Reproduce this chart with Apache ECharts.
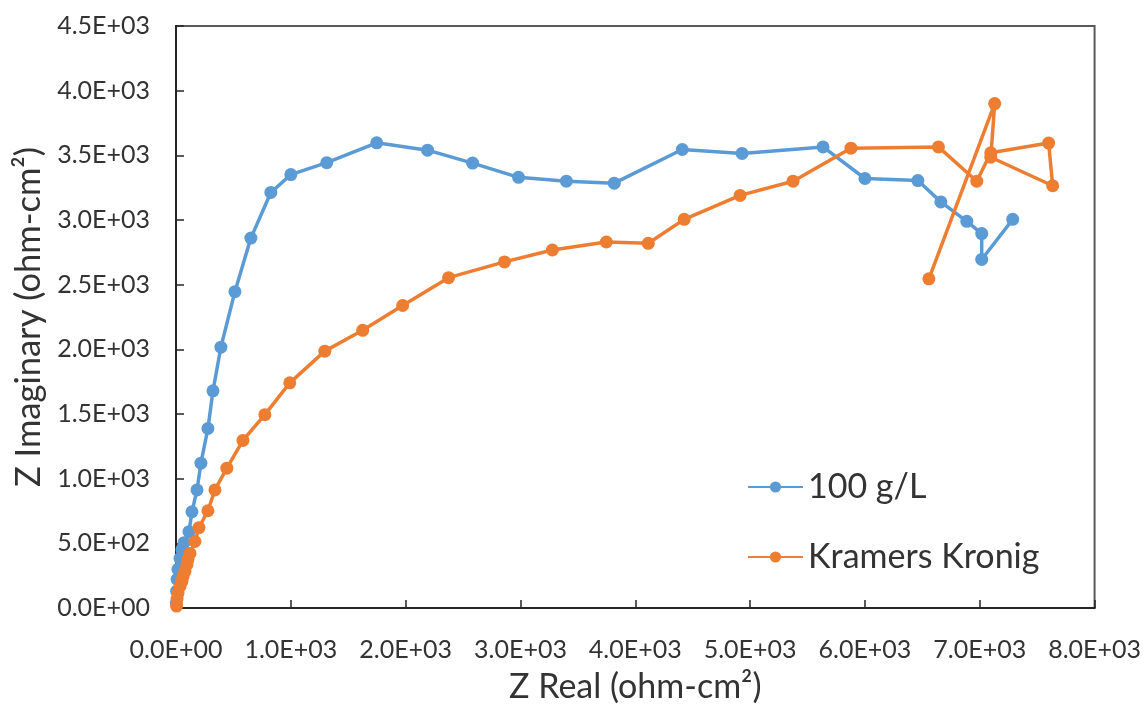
<!DOCTYPE html>
<html>
<head>
<meta charset="utf-8">
<title>Impedance: 100 g/L vs Kramers Kronig</title>
<script src="https://cdn.jsdelivr.net/npm/echarts@6/dist/echarts.min.js"></script>
<style>
  html, body { margin: 0; padding: 0; background: #ffffff; }
  #chart { width: 1144px; height: 709px; }
</style>
</head>
<body>
<div id="chart"></div>
<script>
// Measured impedance, 100 g/L (ohm-cm²)
const measuredReal = [3, 6, 10, 17, 35, 52, 70, 113, 139, 183, 217, 278, 322, 391, 513, 652, 826, 1000, 1313, 1748, 2191, 2583, 2983, 3400, 3817, 4409, 4930, 5635, 6000, 6461, 6661, 6887, 7017, 7017, 7287];
const measuredImag = [40, 130, 222, 299, 383, 452, 505, 590, 744, 913, 1120, 1388, 1679, 2017, 2446, 2860, 3213, 3351, 3443, 3597, 3540, 3440, 3330, 3300, 3285, 3545, 3515, 3565, 3321, 3305, 3140, 2990, 2895, 2695, 3005];

// Kramers-Kronig transform of the same spectrum (ohm-cm²)
const kkReal = [5, 9, 17, 35, 52, 61, 78, 96, 104, 122, 165, 200, 278, 339, 443, 583, 774, 991, 1296, 1626, 1974, 2374, 2861, 3278, 3748, 4113, 4426, 4913, 5374, 5878, 6640, 6974, 7096, 7600, 7635, 7096, 7130, 6557];
const kkImag = [15, 69, 115, 169, 207, 245, 284, 337, 376, 422, 514, 621, 752, 913, 1081, 1296, 1495, 1741, 1986, 2147, 2339, 2554, 2676, 2768, 2830, 2820, 3005, 3190, 3300, 3555, 3565, 3300, 3520, 3595, 3265, 3485, 3900, 2545];

const seriesNames = ['100 g/L', 'Kramers Kronig'];
const seriesColors = ['#5B9BD5', '#ED7D31'];

const xTitle = 'Z Real (ohm-cm²)';
const yTitle = 'Z Imaginary (ohm-cm²)';

function toPairs(xs, ys) {
  return xs.map((x, i) => [x, ys[i]]);
}

// Excel-style scientific tick labels, e.g. 4.5E+03
function sci(v) {
  if (v === 0) return '0.0E+00';
  let e = Math.floor(Math.log10(Math.abs(v)) + 1e-9);
  let m = v / Math.pow(10, e);
  if (Math.abs(m) >= 9.95) { e += 1; m /= 10; }
  return m.toFixed(1) + 'E' + (e < 0 ? '-' : '+') + String(Math.abs(e)).padStart(2, '0');
}

const FONT = 'Lato, "Noto Sans", sans-serif';
const TEXT = '#333333';

const chart = echarts.init(document.getElementById('chart'), null, { renderer: 'canvas' });

function lineSeries(name, color, data) {
  return {
    name: name,
    type: 'line',
    data: data,
    symbol: 'circle',
    symbolSize: 13,
    showSymbol: true,
    lineStyle: { color: color, width: 3.5 },
    itemStyle: { color: color },
    emphasis: { disabled: true },
    z: 2
  };
}

chart.setOption({
  animation: false,
  backgroundColor: '#ffffff',
  grid: {
    left: 176, top: 26, width: 920, height: 586,
    show: true, borderColor: '#595959', borderWidth: 2,
    containLabel: false
  },
  legend: {
    orient: 'vertical',
    left: 742, top: 465,
    itemWidth: 55, itemHeight: 14,
    itemGap: 36,
    textStyle: { fontFamily: FONT, fontSize: 34, color: TEXT },
    data: seriesNames
  },
  xAxis: {
    type: 'value',
    min: 0, max: 8000, interval: 1000,
    name: xTitle,
    nameLocation: 'middle',
    nameGap: 62,
    nameTextStyle: { fontFamily: FONT, fontSize: 34, color: TEXT },
    axisLine: { lineStyle: { color: '#262626', width: 2 } },
    axisTick: { inside: true, length: 8, lineStyle: { color: '#262626', width: 1.5 } },
    axisLabel: { fontFamily: FONT, fontSize: 25, color: TEXT, margin: 29, formatter: sci },
    splitLine: { show: false }
  },
  yAxis: {
    type: 'value',
    min: 0, max: 4500, interval: 500,
    name: yTitle,
    nameLocation: 'middle',
    nameGap: 129,
    nameTextStyle: { fontFamily: FONT, fontSize: 34.5, color: TEXT },
    axisLine: { show: true, lineStyle: { color: '#262626', width: 2 } },
    axisTick: { show: true, inside: true, length: 8, lineStyle: { color: '#262626', width: 1.5 } },
    axisLabel: { fontFamily: FONT, fontSize: 25, color: TEXT, margin: 26, formatter: sci },
    splitLine: { show: false }
  },
  series: [
    lineSeries(seriesNames[0], seriesColors[0], toPairs(measuredReal, measuredImag)),
    lineSeries(seriesNames[1], seriesColors[1], toPairs(kkReal, kkImag))
  ]
});
</script>
</body>
</html>
